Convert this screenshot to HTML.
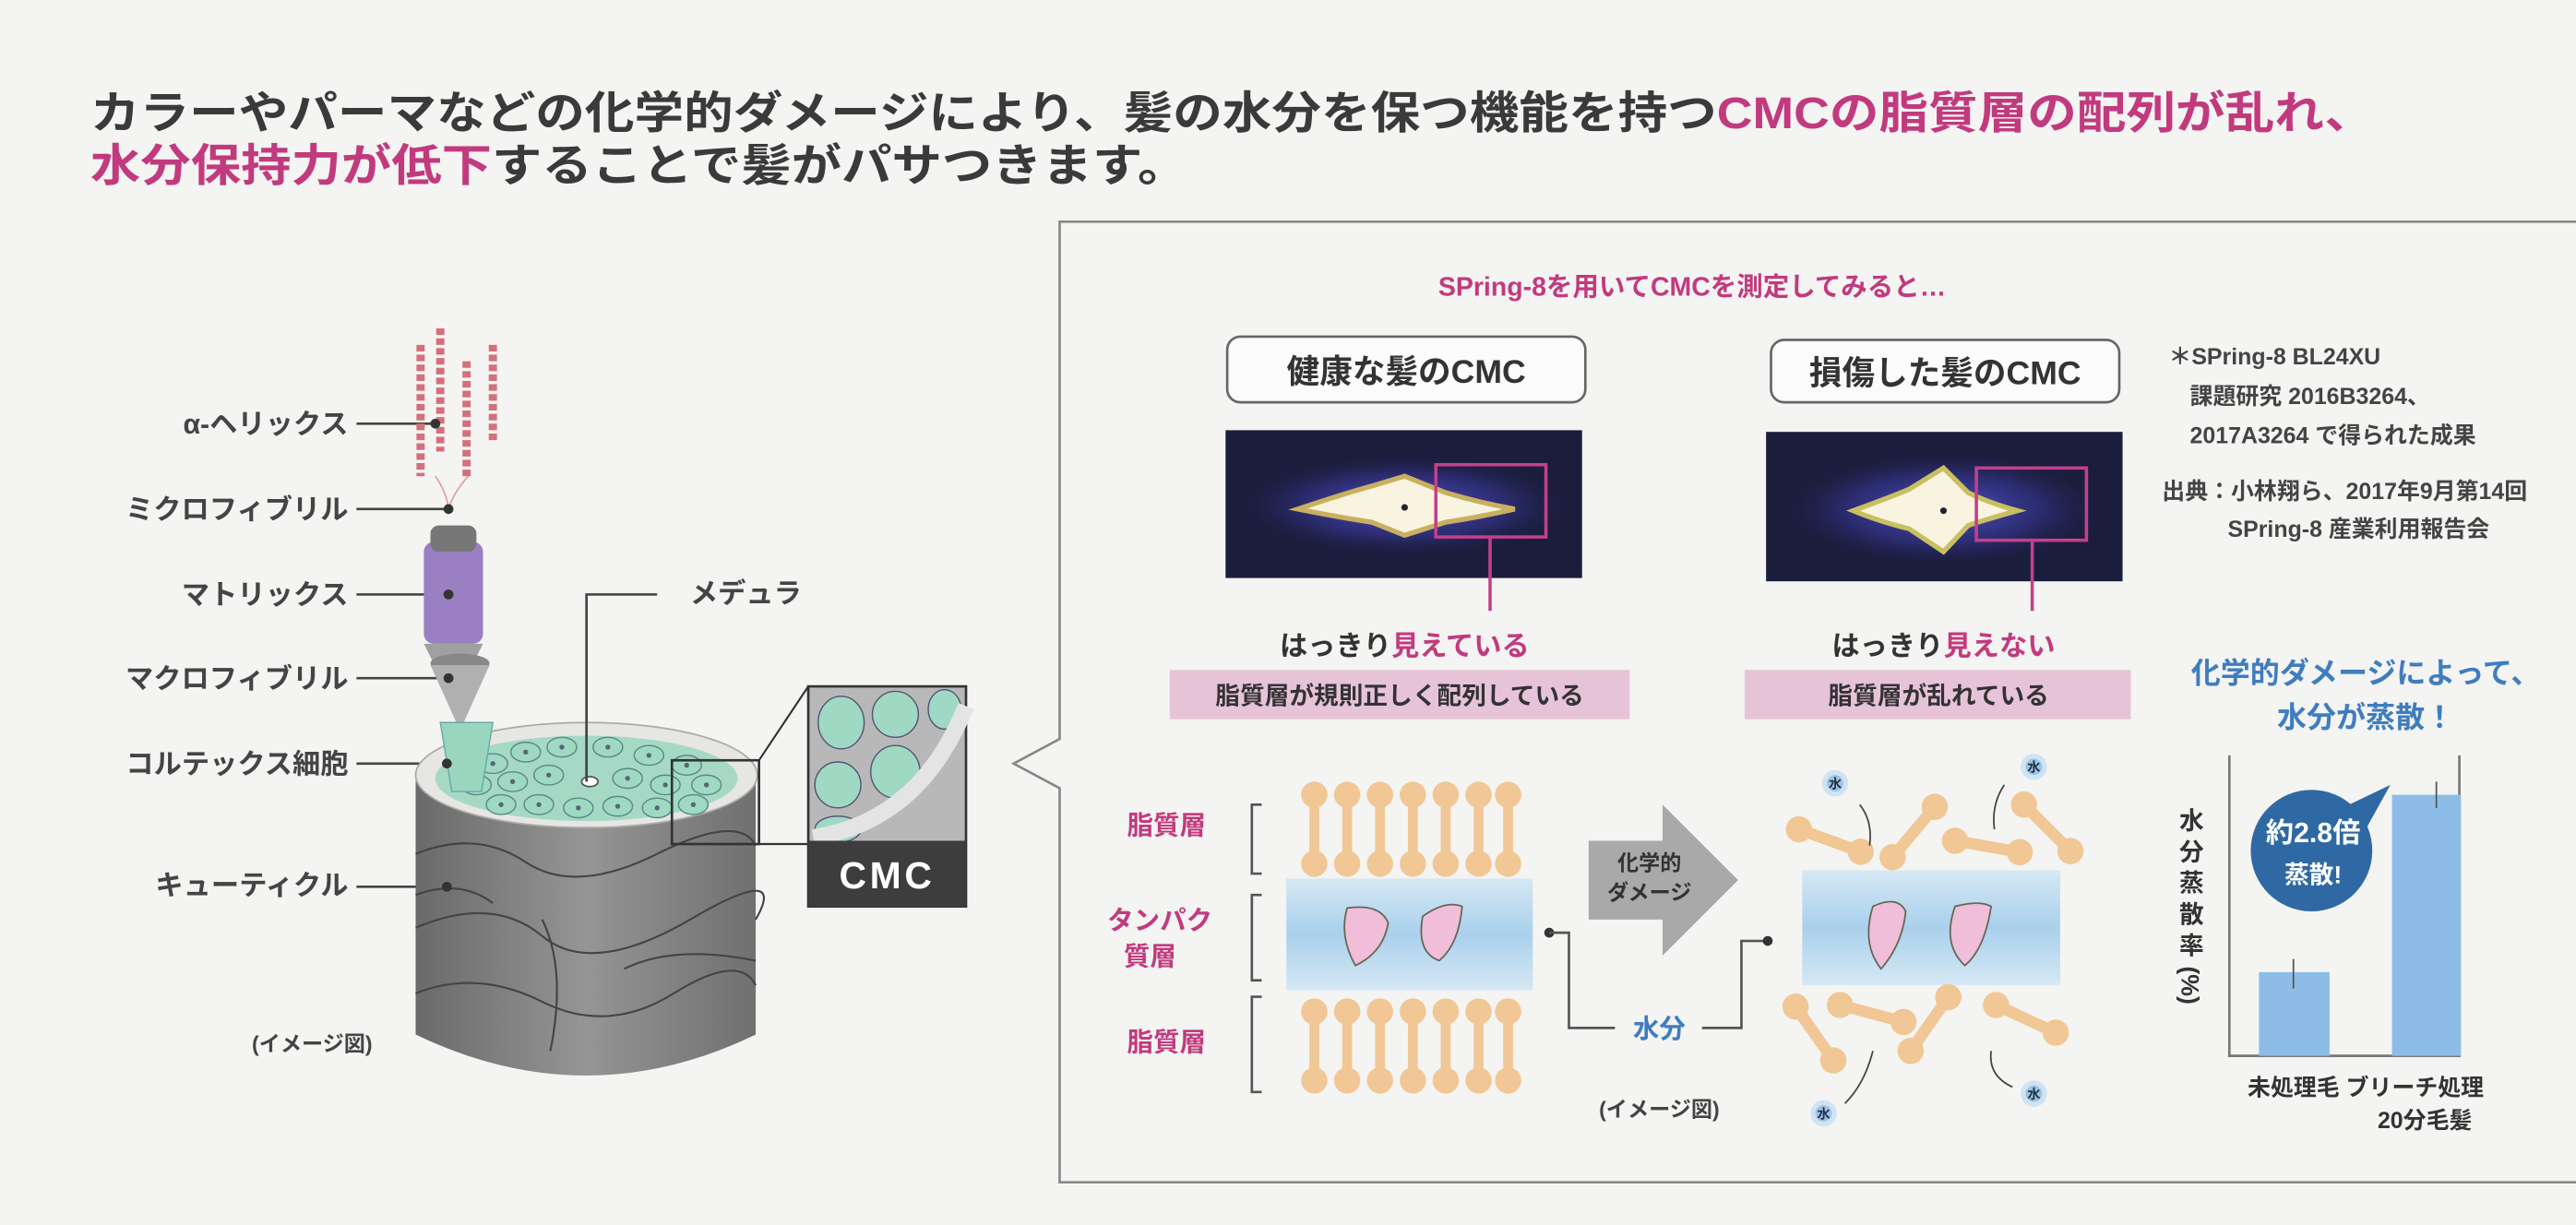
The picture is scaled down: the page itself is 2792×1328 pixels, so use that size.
<!DOCTYPE html>
<html><head><meta charset="utf-8"><style>
html,body{margin:0;padding:0;background:#f3f3f1;}
svg{display:block;}
text{font-family:"Liberation Sans","Noto Sans CJK JP",sans-serif;font-weight:bold;}
</style></head><body>
<svg width="2792" height="1328" viewBox="0 0 1568 746" preserveAspectRatio="none" xmlns="http://www.w3.org/2000/svg">
<defs>
<radialGradient id="glow" cx="50%" cy="50%" r="50%">
<stop offset="0" stop-color="#5a5ae0" stop-opacity="0.95"/><stop offset="0.6" stop-color="#3a3aa0" stop-opacity="0.5"/><stop offset="1" stop-color="#1b1d40" stop-opacity="0"/></radialGradient>
<linearGradient id="cyl" x1="0" x2="1"><stop offset="0" stop-color="#6a6a6a"/><stop offset="0.5" stop-color="#959595"/><stop offset="1" stop-color="#707070"/></linearGradient>
<linearGradient id="band" x1="0" y1="0" x2="0" y2="1"><stop offset="0" stop-color="#d6e8f4"/><stop offset="0.5" stop-color="#a9d0ec"/><stop offset="1" stop-color="#d6e8f4"/></linearGradient>
<g id="lip"><circle cx="0" cy="0" r="8" fill="#f0c795"/><rect x="-3" y="0" width="6" height="42" fill="#f0c795"/><circle cx="0" cy="42" r="8" fill="#f0c795"/></g>
<g id="db"><rect x="0" y="-3.5" width="40" height="7" fill="#f0c795"/><circle cx="0" cy="0" r="8" fill="#f0c795"/><circle cx="40" cy="0" r="8" fill="#f0c795"/></g>
<g id="w"><circle r="8" fill="#cfe3f3"/><circle r="5" fill="#9cc4e6"/><text y="3" font-size="8" text-anchor="middle" fill="#234">水</text></g>
<g id="cell"><ellipse rx="9" ry="6" fill="#9fd8c3" stroke="#5a8a80" stroke-width="0.8"/><circle r="1.5" fill="#567"/></g>
</defs>
<rect width="1568" height="746" fill="#f4f4f2"/>
<!-- title -->
<text x="55" y="78" font-size="27" fill="#3a3a3a" textLength="1390" lengthAdjust="spacingAndGlyphs">カラーやパーマなどの化学的ダメージにより、髪の水分を保つ機能を持つ<tspan fill="#c23a7e">CMCの脂質層の配列が乱れ、</tspan></text>
<text x="55" y="110" font-size="27" fill="#3a3a3a" textLength="668" lengthAdjust="spacingAndGlyphs"><tspan fill="#c23a7e">水分保持力が低下</tspan>することで髪がパサつきます。</text>
<!-- panel -->
<path d="M1568,135 H645 V450 L617,465 L645,480 V720 H1568" fill="none" stroke="#888" stroke-width="1.5"/>
<text x="1030" y="180" font-size="16" fill="#c23a7e" text-anchor="middle">SPring-8を用いてCMCを測定してみると…</text>
<rect x="747" y="205" width="218" height="40" rx="8" fill="#fbfbfb" stroke="#666" stroke-width="1.5"/>
<text x="856" y="233" font-size="20" fill="#333" text-anchor="middle">健康な髪のCMC</text>
<rect x="1078" y="207" width="212" height="38" rx="8" fill="#fbfbfb" stroke="#666" stroke-width="1.5"/>
<text x="1184" y="234" font-size="20" fill="#333" text-anchor="middle">損傷した髪のCMC</text>
<!-- images -->
<rect x="746" y="262" width="217" height="90" fill="#1b1d3c"/>
<ellipse cx="855" cy="308" rx="105" ry="32" fill="url(#glow)"/>
<path d="M790,310 Q820,300 835,296 L855,290 L880,300 Q900,306 922,310 Q900,315 880,318 L855,326 L835,318 Q815,315 790,310Z" fill="#f8f4e0" stroke="#c8b060" stroke-width="3"/>
<circle cx="855" cy="309" r="2" fill="#223"/>
<rect x="874" y="283" width="67" height="44" fill="none" stroke="#c2418a" stroke-width="2"/>
<line x1="907" y1="327" x2="907" y2="372" stroke="#c2418a" stroke-width="2"/>
<rect x="1075" y="263" width="217" height="91" fill="#1b1d3c"/>
<ellipse cx="1183" cy="310" rx="100" ry="36" fill="url(#glow)"/>
<path d="M1128,311 Q1150,303 1162,298 L1183,285 L1198,300 Q1210,306 1228,311 Q1210,316 1198,320 L1183,336 L1162,322 Q1145,318 1128,311Z" fill="#f8f4e0" stroke="#c8c060" stroke-width="3"/>
<circle cx="1183" cy="311" r="2" fill="#223"/>
<rect x="1203" y="285" width="67" height="44" fill="none" stroke="#c2418a" stroke-width="2"/>
<line x1="1237" y1="329" x2="1237" y2="372" stroke="#c2418a" stroke-width="2"/>
<text x="855" y="399" font-size="17" fill="#333" text-anchor="middle">はっきり<tspan fill="#c23a7e">見えている</tspan></text>
<text x="1183" y="399" font-size="17" fill="#333" text-anchor="middle">はっきり<tspan fill="#c23a7e">見えない</tspan></text>
<rect x="712" y="408" width="280" height="30" fill="#e7c3d8"/>
<text x="852" y="429" font-size="15" fill="#333" text-anchor="middle">脂質層が規則正しく配列している</text>
<rect x="1062" y="408" width="235" height="30" fill="#e7c3d8"/>
<text x="1180" y="429" font-size="15" fill="#333" text-anchor="middle">脂質層が乱れている</text>
<g font-size="14" fill="#444">
<text x="1320" y="222">＊SPring-8 BL24XU</text>
<text x="1333" y="246">課題研究 2016B3264、</text>
<text x="1333" y="270">2017A3264 で得られた成果</text>
<text x="1316" y="304">出典：小林翔ら、2017年9月第14回</text>
<text x="1356" y="327">SPring-8 産業利用報告会</text>
</g>
<text x="1440" y="416" font-size="18" fill="#3f7dbf" text-anchor="middle">化学的ダメージによって、</text>
<text x="1440" y="443" font-size="18" fill="#3f7dbf" text-anchor="middle">水分が蒸散！</text>
<!-- chart -->
<path d="M1357,460 V643 H1497 V460" fill="none" stroke="#777" stroke-width="1.5"/>
<rect x="1375" y="592" width="43" height="51" fill="#8dbde6"/>
<rect x="1456" y="484" width="42" height="159" fill="#8dbde6"/>
<line x1="1396" y1="584" x2="1396" y2="602" stroke="#555"/><line x1="1483" y1="476" x2="1483" y2="492" stroke="#555"/>
<circle cx="1407" cy="518" r="37" fill="#2f69a3"/><path d="M1430,490 L1455,478 L1440,505Z" fill="#2f69a3"/>
<text x="1408" y="513" font-size="17" fill="#fff" text-anchor="middle">約2.8倍</text>
<text x="1408" y="538" font-size="15" fill="#fff" text-anchor="middle">蒸散!</text>
<g font-size="15" fill="#333" text-anchor="middle">
<text x="1334" y="505">水</text><text x="1334" y="524">分</text><text x="1334" y="543">蒸</text><text x="1334" y="562">散</text><text x="1334" y="581">率</text><text x="1334" y="606" transform="rotate(90 1334 600)">(%)</text>
</g>
<text x="1440" y="667" font-size="14" fill="#333" text-anchor="middle">未処理毛  ブリーチ処理</text>
<text x="1476" y="687" font-size="14" fill="#333" text-anchor="middle">20分毛髪</text>
<!-- lipid healthy -->
<rect x="783" y="535" width="150" height="68" fill="url(#band)"/>
<g>
<use href="#lip" x="800" y="484"/><use href="#lip" x="820" y="484"/><use href="#lip" x="840" y="484"/><use href="#lip" x="860" y="484"/><use href="#lip" x="880" y="484"/><use href="#lip" x="900" y="484"/><use href="#lip" x="918" y="484"/>
<use href="#lip" x="800" y="616"/><use href="#lip" x="820" y="616"/><use href="#lip" x="840" y="616"/><use href="#lip" x="860" y="616"/><use href="#lip" x="880" y="616"/><use href="#lip" x="900" y="616"/><use href="#lip" x="918" y="616"/>
</g>
<path d="M820,553 Q840,550 845,562 Q842,580 825,588 Q815,570 820,553Z" fill="#f0bed8" stroke="#665" stroke-width="1"/>
<path d="M866,558 Q880,548 890,552 Q888,575 876,585 Q862,580 866,558Z" fill="#f0bed8" stroke="#665" stroke-width="1"/>
<g fill="none" stroke="#555" stroke-width="1.5">
<path d="M768,490 H762 V532 H768"/><path d="M768,545 H762 V597 H768"/><path d="M768,607 H762 V665 H768"/>
</g>
<g font-size="16" fill="#c23a7e" text-anchor="middle">
<text x="710" y="508">脂質層</text><text x="706" y="566">タンパク</text><text x="700" y="588">質層</text><text x="710" y="640">脂質層</text>
</g>
<!-- arrow -->
<path d="M967,512 H1012 V490 L1058,536 L1012,582 V560 H967Z" fill="#a9a9a9"/>
<text x="1004" y="530" font-size="13" fill="#333" text-anchor="middle">化学的</text>
<text x="1004" y="548" font-size="13" fill="#333" text-anchor="middle">ダメージ</text>
<!-- connectors -->
<circle cx="943" cy="568" r="3" fill="#333"/>
<path d="M943,568 H955 V626 H983" fill="none" stroke="#555" stroke-width="1.5"/>
<text x="1010" y="632" font-size="16" fill="#3f7dbf" text-anchor="middle">水分</text>
<path d="M1036,626 H1060 V573 H1076" fill="none" stroke="#555" stroke-width="1.5"/>
<circle cx="1076" cy="573" r="3" fill="#333"/>
<text x="1010" y="680" font-size="13" fill="#444" text-anchor="middle">(イメージ図)</text>
<!-- damaged -->
<rect x="1097" y="530" width="157" height="70" fill="url(#band)"/>
<path d="M1140,552 Q1155,545 1160,555 Q1158,575 1145,590 Q1133,575 1140,552Z" fill="#f0bed8" stroke="#665"/>
<path d="M1190,552 Q1205,548 1212,552 Q1208,578 1196,588 Q1182,575 1190,552Z" fill="#f0bed8" stroke="#665"/>
<use href="#db" transform="translate(1095,505) rotate(20)"/>
<use href="#db" transform="translate(1152,522) rotate(-50)"/>
<use href="#db" transform="translate(1190,512) rotate(10)"/>
<use href="#db" transform="translate(1232,490) rotate(45)"/>
<use href="#db" transform="translate(1093,613) rotate(55)"/>
<use href="#db" transform="translate(1120,612) rotate(15)"/>
<use href="#db" transform="translate(1163,640) rotate(-55)"/>
<use href="#db" transform="translate(1215,612) rotate(25)"/>
<use href="#w" x="1117" y="477"/><use href="#w" x="1238" y="467"/><use href="#w" x="1110" y="678"/><use href="#w" x="1238" y="666"/>
<g fill="none" stroke="#444"><path d="M1132,490 Q1140,500 1138,515"/><path d="M1220,478 Q1212,490 1214,505"/><path d="M1140,640 Q1135,660 1123,672"/><path d="M1212,640 Q1210,655 1225,662"/></g>
<!-- left hair diagram -->
<g font-size="17" fill="#444" text-anchor="end">
<text x="212" y="264">α-ヘリックス</text><text x="212" y="316">ミクロフィブリル</text><text x="212" y="368">マトリックス</text><text x="212" y="419">マクロフィブリル</text><text x="212" y="471">コルテックス細胞</text><text x="212" y="545">キューティクル</text>
</g>
<g stroke="#444" stroke-width="1.5">
<line x1="217" y1="258" x2="265" y2="258"/><line x1="217" y1="310" x2="273" y2="310"/><line x1="217" y1="362" x2="273" y2="362"/><line x1="217" y1="413" x2="273" y2="413"/><line x1="217" y1="465" x2="272" y2="465"/><line x1="217" y1="540" x2="272" y2="540"/>
</g>
<g fill="none" stroke="#d4707a" stroke-width="5" stroke-dasharray="4 2">
<line x1="256" y1="210" x2="256" y2="290"/><line x1="268" y1="200" x2="268" y2="275"/><line x1="284" y1="220" x2="284" y2="290"/><line x1="300" y1="210" x2="300" y2="270"/>
</g>
<path d="M265,290 Q272,300 273,310 M285,290 Q276,300 273,310" stroke="#e3a0a8" fill="none"/>
<rect x="258" y="330" width="36" height="62" rx="6" fill="#9a7fc2"/>
<rect x="262" y="320" width="28" height="16" rx="5" fill="#777"/>
<path d="M258,392 L294,392 L276,428Z" fill="#a0a0a0"/>
<ellipse cx="280" cy="404" rx="18" ry="6" fill="#888"/>
<path d="M262,405 L298,405 L280,445Z" fill="#b0b0b0"/>
<!-- cylinder -->
<path d="M253,475 V630 Q357,680 460,630 V475Z" fill="url(#cyl)"/>
<g fill="none" stroke="#444" stroke-width="1.2"><path d="M253,520 Q290,505 320,525 T400,520 T460,515"/><path d="M253,565 Q300,545 330,570 T420,560 T460,560"/><path d="M253,605 Q290,590 330,610 T410,605 T460,600"/><path d="M330,560 Q345,590 335,640"/><path d="M253,545 Q280,535 300,550"/><path d="M380,590 Q410,575 460,585"/></g>
<ellipse cx="357" cy="472" rx="104" ry="32" fill="#e6e6e2" stroke="#aaa"/>
<ellipse cx="357" cy="474" rx="92" ry="26" fill="#a6d8c6"/>
<g>
<use href="#cell" x="300" y="465"/><use href="#cell" x="320" y="458"/><use href="#cell" x="342" y="455"/><use href="#cell" x="370" y="455"/><use href="#cell" x="395" y="460"/><use href="#cell" x="418" y="466"/>
<use href="#cell" x="290" y="478"/><use href="#cell" x="312" y="476"/><use href="#cell" x="334" y="472"/><use href="#cell" x="382" y="474"/><use href="#cell" x="405" y="478"/><use href="#cell" x="430" y="478"/>
<use href="#cell" x="305" y="490"/><use href="#cell" x="328" y="490"/><use href="#cell" x="352" y="492"/><use href="#cell" x="376" y="491"/><use href="#cell" x="400" y="492"/><use href="#cell" x="422" y="490"/>
</g>
<ellipse cx="359" cy="476" rx="5" ry="3" fill="#fff" stroke="#555"/>
<path d="M268,440 H300 L293,482 H275Z" fill="#9ad6bf" stroke="#6aa" stroke-width="0.8"/>
<circle cx="265" cy="258" r="3" fill="#333"/><circle cx="273" cy="310" r="3" fill="#333"/><circle cx="273" cy="362" r="3" fill="#333"/><circle cx="273" cy="413" r="3" fill="#333"/><circle cx="272" cy="465" r="3" fill="#333"/><circle cx="272" cy="540" r="3" fill="#333"/>
<text x="190" y="640" font-size="13" fill="#444" text-anchor="middle">(イメージ図)</text>
<path d="M357,476 V362 H400" fill="none" stroke="#444" stroke-width="1.5"/>
<text x="420" y="367" font-size="17" fill="#444">メデュラ</text>
<rect x="409" y="463" width="53" height="51" fill="none" stroke="#333" stroke-width="1.5"/>
<path d="M462,463 L492,418 M462,514 H492" stroke="#333" stroke-width="1.2"/>
<rect x="492" y="418" width="96" height="134" fill="#b8b8b8" stroke="#333" stroke-width="1.5"/>
<g fill="#9fd8c3" stroke="#557" stroke-width="0.8">
<ellipse cx="512" cy="440" rx="14" ry="16"/><ellipse cx="545" cy="435" rx="14" ry="14"/><ellipse cx="575" cy="432" rx="10" ry="12"/>
<ellipse cx="510" cy="478" rx="14" ry="14"/><ellipse cx="545" cy="470" rx="15" ry="16"/><ellipse cx="510" cy="505" rx="14" ry="8"/>
</g>
<path d="M495,510 Q560,500 588,430" stroke="#e4e4e4" stroke-width="10" fill="none"/>
<rect x="492" y="512" width="96" height="40" fill="#3d3d3d"/>
<text x="540" y="541" font-size="23" fill="#fff" text-anchor="middle" letter-spacing="2">CMC</text>
</svg>
</body></html>
